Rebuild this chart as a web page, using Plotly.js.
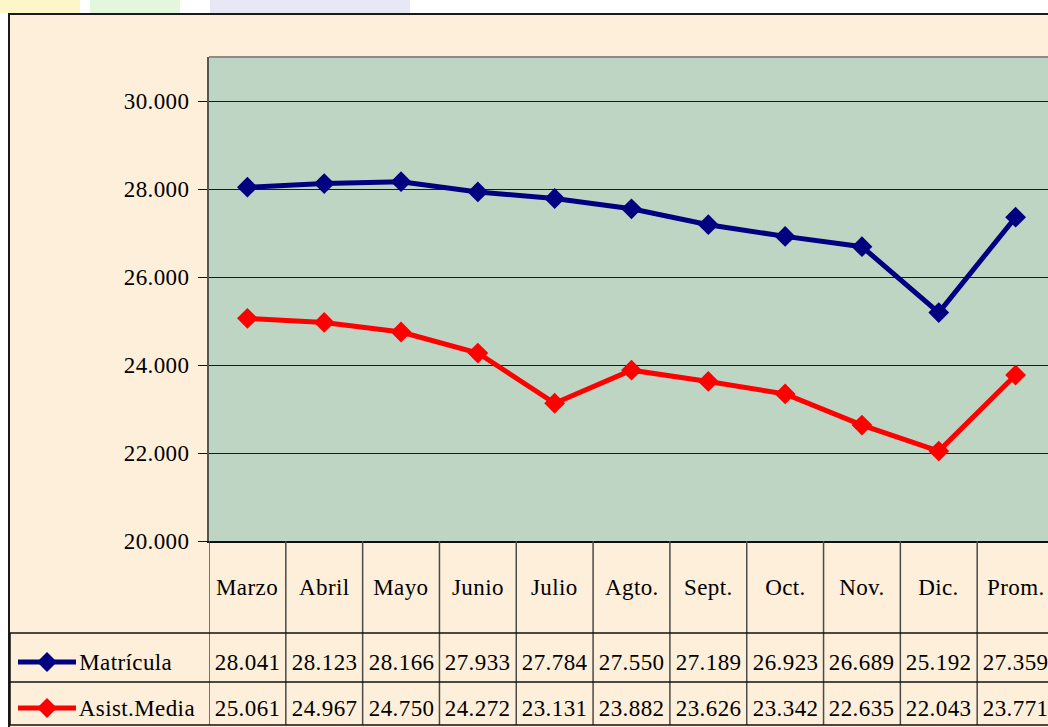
<!DOCTYPE html>
<html>
<head>
<meta charset="utf-8">
<script src="https://cdn.plot.ly/plotly-3.0.1.min.js"></script>
<style>
  html, body { margin:0; padding:0; width:1048px; height:727px; overflow:hidden; background:#ffffff; }
  #wm1 { position:absolute; left:0; top:0; width:80px; height:13px; background:#fdf6c8; }
  #wm2 { position:absolute; left:90px; top:0; width:90px; height:13px; background:#e3f7dc; }
  #wm3 { position:absolute; left:210px; top:0; width:200px; height:13px; background:#e6e8f6; }
  #frame { position:absolute; left:8px; top:13px; width:1100px; height:760px; background:#fdefd9;
           border-left:2px solid #1a1a1a; border-top:2px solid #1a1a1a; }
  #chart { position:absolute; left:0; top:0; width:1060px; height:727px; }
  #chart text { letter-spacing:0.4px; }
</style>
</head>
<body>
<div id="wm1"></div><div id="wm2"></div><div id="wm3"></div>
<div id="frame"></div>
<div id="chart"></div>
<script>
const categories = ["Marzo","Abril","Mayo","Junio","Julio","Agto.","Sept.","Oct.","Nov.","Dic.","Prom."];
const matricula = [28041, 28123, 28166, 27933, 27784, 27550, 27189, 26923, 26689, 25192, 27359];
const asistMedia = [25061, 24967, 24750, 24272, 23131, 23882, 23626, 23342, 22635, 22043, 23771];
const seriesNames = ["Matrícula", "Asist.Media"];
const seriesColors = ["#000080", "#ff0000"];
const yTicks = [20000, 22000, 24000, 26000, 28000, 30000];

const W = 1060, H = 727;
const L = 209, T = 57, B = 186;
const plotW = 845, plotH = H - T - B;
const px2x = p => (p - L) / plotW;
const px2y = p => (H - B - p) / plotH;
const fmt = v => { const s = String(v); return s.slice(0, -3) + "." + s.slice(-3); };

const FONT = { family: "Liberation Serif", size: 23, color: "#000" };

const traces = [matricula, asistMedia].map((vals, i) => ({
  type: "scatter", mode: "lines+markers",
  x: categories, y: vals, name: seriesNames[i],
  line: { color: seriesColors[i], width: 5 },
  marker: { symbol: "diamond", size: 16, color: seriesColors[i] },
  showlegend: false, cliponaxis: false
}));

const shapes = [];
const annotations = [];
shapes.push({ type: "line", xref: "paper", yref: "paper", x0: 0, x1: 1.2, y0: 1, y1: 1,
  line: { color: "#8c8c8c", width: 2 } });
for (let k = 0; k <= categories.length; k++) {
  shapes.push({ type: "line", xref: "x", yref: "paper", x0: k - 0.5, x1: k - 0.5,
    y0: px2y(725), y1: 0, line: { color: "#4a4a4a", width: 1.5 } });
}
[633, 682, 725].forEach(py => {
  shapes.push({ type: "line", xref: "paper", yref: "paper", x0: px2x(10), x1: 1.2,
    y0: px2y(py), y1: px2y(py), line: { color: "#111", width: 1.5 } });
});
shapes.push({ type: "line", xref: "paper", yref: "paper", x0: px2x(10), x1: px2x(10),
  y0: px2y(725), y1: px2y(633), line: { color: "#111", width: 1.5 } });

categories.forEach(c => {
  annotations.push({ x: c, xref: "x", y: px2y(587), yref: "paper", text: c,
    showarrow: false, font: FONT, xanchor: "center", yanchor: "middle" });
});
const rowY = [662, 708];
[matricula, asistMedia].forEach((vals, i) => {
  vals.forEach((v, j) => {
    annotations.push({ x: categories[j], xref: "x", y: px2y(rowY[i]), yref: "paper",
      text: fmt(v), showarrow: false, font: FONT, xanchor: "center", yanchor: "middle" });
  });
  annotations.push({ x: px2x(79), xref: "paper", y: px2y(rowY[i]), yref: "paper",
    text: seriesNames[i], showarrow: false, font: FONT, xanchor: "left", yanchor: "middle" });
  shapes.push({ type: "line", xref: "paper", yref: "paper", x0: px2x(18), x1: px2x(76),
    y0: px2y(rowY[i]), y1: px2y(rowY[i]), line: { color: seriesColors[i], width: 5 } });
  const cx = 47, cy = rowY[i], hw = 10, hh = 10;
  shapes.push({ type: "path", xref: "paper", yref: "paper",
    path: `M ${px2x(cx - hw)} ${px2y(cy)} L ${px2x(cx)} ${px2y(cy - hh)} L ${px2x(cx + hw)} ${px2y(cy)} L ${px2x(cx)} ${px2y(cy + hh)} Z`,
    fillcolor: seriesColors[i], line: { width: 0 } });
});

const layout = {
  width: W, height: H,
  margin: { l: L, r: W - L - plotW, t: T, b: B },
  paper_bgcolor: "rgba(0,0,0,0)",
  plot_bgcolor: "#bfd5c3",
  separators: ",.",
  font: FONT,
  xaxis: { type: "category", categoryarray: categories, range: [-0.5, categories.length - 0.5],
    showticklabels: false, ticks: "", showgrid: false, zeroline: false,
    showline: true, linecolor: "#111", linewidth: 1.5, fixedrange: true },
  yaxis: { range: [20000, 31000], tickvals: yTicks, tickformat: ",.0f",
    ticks: "outside", ticklen: 9, tickcolor: "#111", tickwidth: 1,
    showgrid: true, gridcolor: "#1a1a1a", gridwidth: 1, zeroline: false,
    showline: true, linecolor: "#555", linewidth: 2, ticklabelstandoff: 4,
    tickfont: FONT, fixedrange: true },
  shapes: shapes,
  annotations: annotations
};

Plotly.newPlot("chart", traces, layout, { displayModeBar: false, staticPlot: true });
</script>
</body>
</html>
